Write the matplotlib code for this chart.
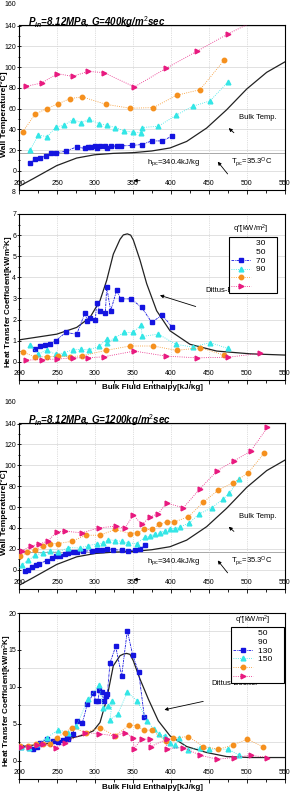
import matplotlib.pyplot as plt
from matplotlib.lines import Line2D
from matplotlib.ticker import MultipleLocator

plt.rcParams['font.family'] = ['Liberation Sans', 'DejaVu Sans']
plt.rcParams['mathtext.fontset'] = 'custom'
plt.rcParams['mathtext.rm'] = 'Liberation Sans'
plt.rcParams['mathtext.it'] = 'Liberation Sans:bold:italic'
plt.rcParams['mathtext.bf'] = 'Liberation Sans:bold'

BLUE = '#1414e0'
CYAN = '#33e6e6'
ORANGE = '#f5901e'
PINK = '#e8197f'

# Bulk temperature curve (same in both wall temperature plots)
bulk_h = [200, 218.9, 249.6, 275.9, 300, 324.1, 350.4, 374.6, 398.7, 420.6, 446.9, 473.2, 499.6, 525.9, 550]
bulk_T = [-15, -7.5, 5, 12.3, 15.5, 16.8, 17.5, 19.1, 22, 28.3, 41.2, 58.8, 78.8, 94.9, 105]
T_pc_level = 16.8

# ---- G = 400 kg/m2sec, wall temperature ----
h400_q30 = [214.5, 221.1, 227.6, 235.1, 241.7, 248.7, 261.8, 275.9, 286.8, 291.2, 294.3, 300.0,
            302.2, 306.6, 313.2, 315.4, 320.6, 328.5, 333.8, 348.2, 361.4, 374.6, 388.6, 400.9]
Tw400_q30 = [7.1, 11.2, 12.5, 14.1, 16.7, 17.3, 18.9, 23.1, 21.5, 22.8, 23.1, 23.7,
             22.1, 24.0, 24.0, 22.1, 24.0, 23.7, 24.0, 24.4, 25.3, 28.8, 28.8, 33.3]
h400_q50 = [214.5, 225.4, 237.3, 248.7, 259.6, 270.6, 282.0, 292.5, 304.8, 315.4, 326.8, 338.2,
            349.6, 361.0, 361.8, 383.3, 406.6, 428.5, 451.3, 474.6]
Tw400_q50 = [19.9, 34.3, 33.0, 42.3, 43.9, 49.4, 46.5, 49.7, 45.5, 43.9, 41.7, 38.5,
             37.2, 36.9, 41.7, 42.9, 53.5, 62.2, 67.3, 85.3]
h400_q70 = [204.8, 221.1, 236.4, 251.8, 267.1, 283.3, 314.0, 346.1, 376.8, 407.5, 438.2, 469.7]
Tw400_q70 = [37.5, 54.5, 59.9, 64.7, 69.6, 71.2, 64.1, 60.3, 60.9, 72.8, 78.2, 106.4]
h400_q90 = [209.2, 229.8, 250.4, 270.6, 291.2, 311.8, 351.8, 393.4, 434.6, 475.4, 517.1]
Tw400_q90 = [81.4, 84.6, 93.6, 91.0, 95.8, 94.6, 80.8, 98.7, 115.4, 132.1, 147.0]

# ---- G = 400 kg/m2sec, heat transfer coefficient ----
hh400_q30 = [221.1, 227.6, 234.2, 240.8, 248.2, 261.4, 275.9, 286.8, 289.9, 293.4, 300.4, 302.2,
             306.6, 313.6, 315.4, 320.6, 328.5, 333.8, 347.4, 361.4, 374.6, 388.6, 400.9]
htc400_q30 = [0.61, 0.73, 0.80, 0.86, 0.99, 1.39, 1.31, 2.31, 1.95, 2.06, 1.98, 2.78,
              2.39, 2.30, 3.54, 2.42, 3.38, 2.98, 2.98, 2.58, 1.87, 2.22, 1.66]
hh400_q50 = [214.5, 225.4, 236.4, 248.2, 259.6, 270.6, 282.0, 292.5, 304.8, 315.4, 316.2, 326.8,
             338.2, 349.6, 361.0, 361.8, 383.3, 406.6, 428.5, 451.3, 474.6]
htc400_q50 = [0.80, 0.35, 0.57, 0.35, 0.43, 0.57, 0.59, 0.57, 0.73, 1.07, 0.91, 1.15,
              1.39, 1.39, 1.74, 1.20, 1.31, 0.83, 0.70, 0.91, 0.64]
htc400_q70 = [0.46, 0.24, 0.24, 0.27, 0.24, 0.29, 0.54, 0.75, 0.75, 0.54, 0.67, 0.32]
htc400_q90 = [0.08, 0.11, 0.13, 0.19, 0.19, 0.24, 0.51, 0.27, 0.19, 0.22, 0.40]
db_h400 = [200, 249.6, 275.9, 293.4, 306.6, 315.4, 324.1, 332.9, 337.3, 342.5, 346.9, 350.4,
           359.2, 368.0, 381.1, 398.7, 425.0, 460.1, 503.9, 550]
db400 = [1.04, 1.31, 1.63, 2.10, 2.90, 3.86, 5.10, 5.80, 6.01, 6.06, 6.00, 5.77,
         4.82, 3.70, 2.42, 1.47, 0.83, 0.51, 0.38, 0.32]

# ---- G = 1200 kg/m2sec, wall temperature ----
h1200_q50 = [207.9, 212.3, 216.7, 222.4, 226.8, 236.4, 243.0, 248.7, 253.9, 260.5, 264.9, 270.6,
             276.8, 284.6, 295.6, 302.2, 308.8, 315.4, 324.1, 335.1, 343.9, 352.6, 359.2, 365.8]
Tw1200_q50 = [-1.6, 0.0, 2.6, 4.8, 5.8, 8.7, 10.9, 12.8, 13.5, 15.4, 16.0, 16.7,
              17.0, 17.6, 18.3, 19.2, 19.2, 20.2, 19.2, 18.6, 17.9, 18.9, 19.9, 23.7]
h1200_q90 = [203.5, 212.3, 221.1, 231.1, 240.8, 251.8, 264.9, 280.3, 291.2, 302.2, 311.0, 317.5,
             326.3, 335.1, 343.9, 354.8, 365.8, 372.4, 378.9, 385.5, 392.1, 398.7, 405.3, 411.8,
             424.1, 437.3, 453.5, 468.0, 476.8, 489.9]
Tw1200_q90 = [4.8, 9.0, 13.8, 16.0, 17.9, 17.0, 21.2, 20.8, 23.1, 24.7, 25.6, 28.8,
              27.9, 27.2, 25.6, 25.0, 31.1, 32.1, 34.3, 35.3, 37.2, 39.4, 39.4, 40.7,
              44.9, 53.5, 59.3, 67.3, 73.1, 87.2]
h1200_q130 = [201.3, 211.0, 221.1, 231.1, 240.8, 251.8, 269.3, 288.2, 306.6, 326.3, 346.1, 354.8,
              364.5, 374.6, 384.2, 394.3, 404.4, 422.8, 442.5, 462.3, 482.0, 501.8, 522.4]
Tw1200_q130 = [12.8, 16.7, 18.6, 23.1, 25.0, 25.0, 27.2, 33.0, 33.0, 38.5, 34.6, 35.3,
               38.5, 38.5, 43.3, 45.8, 45.8, 50.6, 64.7, 76.3, 83.3, 92.9, 111.5]
h1200_q150 = [203.5, 215.4, 226.8, 237.7, 249.6, 260.5, 282.5, 305.7, 327.6, 339.5, 350.4, 361.4,
              372.4, 383.3, 394.3, 416.2, 438.2, 461.0, 482.9, 504.8, 526.8]
Tw1200_q150 = [18.3, 22.4, 24.7, 27.2, 36.2, 36.9, 35.3, 40.1, 41.7, 39.7, 52.6, 43.3,
               50.3, 53.8, 63.8, 59.3, 77.6, 94.9, 104.2, 113.5, 136.2]

# ---- G = 1200 kg/m2sec, heat transfer coefficient ----
hh1200_q50 = [202.2, 213.6, 218.9, 223.2, 227.6, 236.4, 245.2, 251.8, 258.3, 263.6, 264.9, 270.6,
              275.9, 283.3, 289.9, 297.8, 300.9, 304.4, 305.3, 308.8, 311.8, 314.5, 316.2, 319.7,
              327.2, 335.1, 342.5, 349.6, 357.5, 364.9]
htc1200_q50 = [1.90, 1.67, 1.63, 1.90, 2.35, 2.90, 2.67, 2.58, 2.76, 3.03, 2.90, 3.57,
               5.38, 5.07, 7.65, 9.10, 8.10, 8.01, 9.55, 9.32, 8.10, 8.78, 9.00, 13.21,
               15.48, 11.49, 17.60, 14.30, 11.95, 5.97]
hh1200_q90 = [202.2, 213.6, 223.2, 236.4, 251.8, 264.9, 275.0, 291.2, 305.3, 311.0, 316.7, 322.8,
              319.7, 329.8, 342.5, 355.7, 368.0, 377.6, 384.6, 392.1, 398.7, 405.3, 411.0, 421.9,
              438.2, 450.4, 475.4, 489.9]
htc1200_q90 = [1.90, 1.76, 2.22, 3.08, 4.16, 3.80, 4.62, 8.33, 10.23, 7.19, 7.33, 8.01,
               5.52, 6.29, 9.23, 8.10, 5.38, 4.25, 3.57, 3.35, 2.35, 2.08, 3.03, 1.45,
               1.76, 1.54, 1.54, 0.72]
hh1200_q130 = [201.3, 212.3, 222.4, 232.0, 240.8, 249.6, 260.5, 269.3, 288.2, 306.6, 326.3, 345.2,
               354.8, 364.5, 374.6, 393.4, 403.1, 422.8, 442.5, 462.3, 481.1, 500.4, 520.6]
htc1200_q130 = [1.99, 1.99, 2.22, 2.22, 2.22, 3.12, 3.80, 4.48, 3.80, 4.48, 3.35, 4.84,
                4.71, 4.12, 4.12, 2.67, 3.03, 3.26, 1.90, 1.54, 2.08, 2.90, 1.90]
hh1200_q150 = [202.2, 213.6, 224.1, 232.0, 248.7, 260.5, 286.8, 305.7, 326.3, 339.5, 350.4, 351.3,
               361.4, 372.4, 373.2, 394.3, 394.3, 416.2, 438.2, 461.0, 482.9, 504.8, 526.8]
htc1200_q150 = [1.90, 1.90, 2.17, 2.22, 1.76, 2.35, 3.80, 3.62, 3.35, 3.80, 3.03, 1.63,
                2.90, 2.90, 1.90, 2.90, 1.63, 1.76, 0.72, 0.18, 0.41, 0.72, 0.41]
db_h1200 = [200, 240.8, 262.7, 284.6, 297.8, 306.6, 315.4, 324.1, 332.9, 337.3, 341.7, 346.1,
            350.4, 359.2, 370.2, 383.3, 398.7, 420.6, 446.9, 473.2, 503.9, 550]
db1200 = [1.86, 2.35, 2.90, 3.44, 4.03, 5.16, 8.33, 12.85, 14.21, 14.43, 14.52, 14.39,
          13.53, 11.04, 8.33, 5.38, 3.35, 1.90, 1.09, 0.54, 0.41, 0.41]

q400_labels = ['30', '50', '70', '90']
q1200_labels = ['50', '90', '130', '150']

STYLES = [(BLUE, 's', 2.6, (0, (3, 1, 1, 1))),
          (CYAN, '^', 3.4, ':'),
          (ORANGE, 'o', 3.2, ':'),
          (PINK, '>', 3.4, ':')]


def plot_series(ax, xs, ys):
    for (c, m, ms, ls), x, y in zip(STYLES, xs, ys):
        ax.plot(x, y, color=c, lw=0.6, ls=ls, marker=m, ms=ms, mfc=c, mec=c, zorder=3)


def setup(ax, ylim, ystep, yminor, grid_minor=False):
    ax.set_xlim(200, 550)
    ax.set_ylim(*ylim)
    ax.xaxis.set_major_locator(MultipleLocator(50))
    ax.xaxis.set_minor_locator(MultipleLocator(25))
    ax.yaxis.set_major_locator(MultipleLocator(ystep))
    ax.yaxis.set_minor_locator(MultipleLocator(yminor))
    ax.tick_params(axis='x', which='both', direction='out', labelsize=5, pad=-10.5, width=0.6)
    ax.tick_params(axis='x', which='major', length=3)
    ax.tick_params(axis='x', which='minor', length=2)
    ax.tick_params(axis='y', which='both', direction='inout', labelsize=5, pad=0.5, width=0.6)
    ax.tick_params(axis='y', which='major', length=3)
    ax.tick_params(axis='y', which='minor', length=2)
    ax.grid(axis='x', which='major', color='#c0c0c0', lw=0.5, ls=':')
    ax.grid(axis='y', which='minor' if grid_minor else 'major', color='#d4d4d4', lw=0.5)
    for s in ax.spines.values():
        s.set_linewidth(0.8)


def arrow(ax, head, tail):
    ax.annotate('', xy=head, xytext=tail,
                arrowprops=dict(arrowstyle='-|>', color='k', lw=0.6, mutation_scale=5))


def temp_panel(ax, title, xs, ys):
    setup(ax, (-18.5, 140.5), 20, 10)
    ax.plot(bulk_h, bulk_T, color='#222222', lw=0.9, zorder=2)
    ax.axhline(T_pc_level, color='#9a9a9a', lw=0.6, zorder=1)
    plot_series(ax, xs, ys)
    ax.text(0.035, 0.992, title, transform=ax.transAxes, fontsize=7, fontweight='bold',
            fontstyle='italic', va='baseline', ha='left')
    ax.text(-0.012, 160, '160', transform=ax.get_yaxis_transform(), ha='right', va='center',
            fontsize=5, clip_on=False)
    ax.set_ylabel('Wall Temperature[°C]', fontsize=6, fontweight='bold',
                  bbox=dict(fc='white', ec='none', pad=0))
    ax.yaxis.set_label_coords(-0.04, 0.46)
    ax.text(489, 51, 'Bulk Temp.', fontsize=5.5, va='center')
    arrow(ax, (473.2, 42.9), (485.5, 34.9))
    ax.text(369, 7.7, r'h$_{\rm pc}$=340.4kJ/kg', fontsize=5.5, va='center')
    ax.text(479, 7.7, r'T$_{\rm pc}$=35.3$^{\rm O}$C', fontsize=5.5, va='center')
    arrow(ax, (459.2, 10.9), (476.8, -5.1))
    arrow(ax, (347, -9.5), (363, -9.5))


def htc_legend(ax, labels, anchor, title_y):
    blank = Line2D([], [], ls='none')
    handles = [blank, blank]
    for c, m, ms, ls in STYLES:
        handles.append(Line2D([], [], color=c, lw=0.6, ls=ls, marker=m, ms=ms, mfc=c, mec=c))
    # labels sit two rows above their markers, as in the original figure
    padded = [lab + '    ' for lab in labels] + ['', '']
    leg = ax.legend(handles, padded, loc='upper left', bbox_to_anchor=anchor,
                    fontsize=6, fancybox=False, edgecolor='k', framealpha=1,
                    borderpad=0.25, labelspacing=0.12, handlelength=2.4, handletextpad=0.6,
                    borderaxespad=0)
    leg.get_frame().set_linewidth(0.8)
    leg.set_zorder(6)
    ax.text(anchor[0] + 0.015, title_y, 'q"[kW/m$^{\\rm 2}$]', transform=ax.transAxes,
            fontsize=5.5, va='center', ha='left')


fig = plt.figure(figsize=(2.9, 7.97), dpi=100)
L, W = 19 / 290, 266 / 290
ax1 = fig.add_axes([L, 1 - 190 / 797, W, 165 / 797])
ax2 = fig.add_axes([L, 1 - 380 / 797, W, 166 / 797])
ax3 = fig.add_axes([L, 1 - 589 / 797, W, 166 / 797])
ax4 = fig.add_axes([L, 1 - 779 / 797, W, 166 / 797])

# G = 400 temperature
temp_panel(ax1, r'$\it{P_{in}}$=8.12MPa, G=400kg/m$^{\it{2}}$sec',
           [h400_q30, h400_q50, h400_q70, h400_q90],
           [Tw400_q30, Tw400_q50, Tw400_q70, Tw400_q90])

# G = 400 heat transfer coefficient
setup(ax2, (-0.86, 7.0), 1, 0.5)
ax2.plot(db_h400, db400, color='#222222', lw=0.9, zorder=2)
plot_series(ax2, [hh400_q30, hh400_q50, h400_q70, h400_q90],
            [htc400_q30, htc400_q50, htc400_q70, htc400_q90])
ax2.text(-0.012, 8, '8', transform=ax2.get_yaxis_transform(), ha='right', va='center',
         fontsize=5, clip_on=False)
ax2.set_ylabel('Heat Transfer Coefficient[kW/m$^{\\rm 2}$K]', fontsize=5.8, fontweight='bold')
ax2.yaxis.set_label_coords(-0.012, 0.47)
ax2.set_xlabel('Bulk Fluid Enthalpy[kJ/kg]', fontsize=5.8, fontweight='bold')
ax2.xaxis.set_label_coords(0.5, -0.025)
ax2.text(444.7, 3.38, 'Dittus-Boelter', fontsize=5.5, va='center')
arrow(ax2, (382, 3.19), (436, 2.58))
htc_legend(ax2, q400_labels, (0.789, 0.861), 0.91)

# G = 1200 temperature
temp_panel(ax3, r'$\it{P_{in}}$=8.12MPa, G=1200kg/m$^{\it{2}}$sec',
           [h1200_q50, h1200_q90, h1200_q130, h1200_q150],
           [Tw1200_q50, Tw1200_q90, Tw1200_q130, Tw1200_q150])

# G = 1200 heat transfer coefficient
setup(ax4, (-2.5, 20), 5, 2.5, grid_minor=True)
ax4.plot(db_h1200, db1200, color='#222222', lw=0.9, zorder=2)
plot_series(ax4, [hh1200_q50, hh1200_q90, hh1200_q130, hh1200_q150],
            [htc1200_q50, htc1200_q90, htc1200_q130, htc1200_q150])
ax4.set_ylabel('Heat Transfer Coefficient[kW/m$^{\\rm 2}$K]', fontsize=5.8, fontweight='bold')
ax4.yaxis.set_label_coords(-0.02, 0.47)
ax4.set_xlabel('Bulk Fluid Enthalpy[kJ/kg]', fontsize=5.8, fontweight='bold')
ax4.xaxis.set_label_coords(0.5, -0.03)
ax4.text(453.5, 10.5, 'Dittus-Boelter', fontsize=5.5, va='center')
arrow(ax4, (387.7, 6.8), (446, 8.1))
htc_legend(ax4, q1200_labels, (0.797, 0.916), 0.958)

fig.savefig('out.png', dpi=100)
